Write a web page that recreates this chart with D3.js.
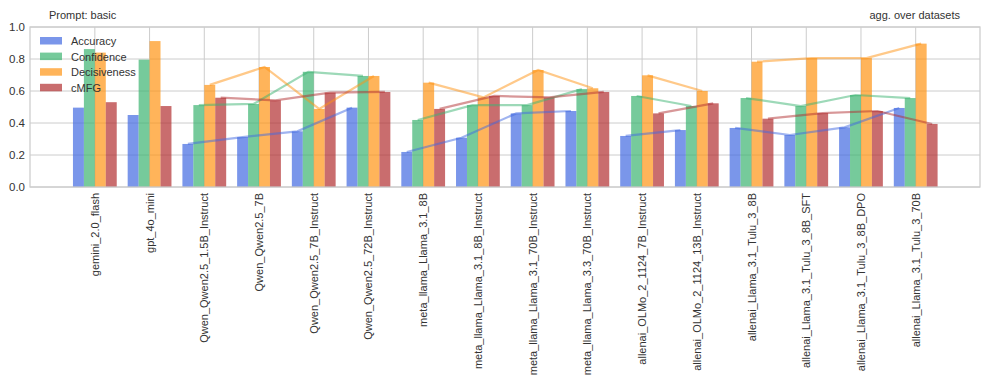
<!DOCTYPE html>
<html>
<head>
<meta charset="utf-8">
<script src="https://cdn.jsdelivr.net/npm/d3@7"></script>
<style>
	body { margin: 0; background: #fff; }
	svg { display: block; font-family: 'Liberation Sans', Arial, sans-serif; }
</style>
</head>
<body>
<svg id="chart" width="989" height="388"></svg>
<script>
// model names along the x axis
const models = [
	'gemini_2.0_flash', 'gpt_4o_mini',
	'Qwen_Qwen2.5_1.5B_Instruct', 'Qwen_Qwen2.5_7B', 'Qwen_Qwen2.5_7B_Instruct', 'Qwen_Qwen2.5_72B_Instruct',
	'meta_llama_Llama_3.1_8B', 'meta_llama_Llama_3.1_8B_Instruct', 'meta_llama_Llama_3.1_70B_Instruct', 'meta_llama_Llama_3.3_70B_Instruct',
	'allenai_OLMo_2_1124_7B_Instruct', 'allenai_OLMo_2_1124_13B_Instruct',
	'allenai_Llama_3.1_Tulu_3_8B', 'allenai_Llama_3.1_Tulu_3_8B_SFT', 'allenai_Llama_3.1_Tulu_3_8B_DPO', 'allenai_Llama_3.1_Tulu_3_70B'
];

// model families, connected by a line (index ranges into models)
const families = [[2, 5], [6, 9], [10, 11], [12, 15]];

const metrics = ['Accuracy', 'Confidence', 'Decisiveness', 'cMFG'];

const accuracy     = [0.496, 0.450, 0.269, 0.312, 0.348, 0.496, 0.219, 0.308, 0.460, 0.475, 0.319, 0.356, 0.369, 0.325, 0.373, 0.494];
const confidence   = [0.862, 0.796, 0.512, 0.519, 0.720, 0.694, 0.419, 0.512, 0.512, 0.612, 0.569, 0.506, 0.556, 0.506, 0.575, 0.556];
const decisiveness = [0.840, 0.912, 0.638, 0.750, 0.488, 0.694, 0.652, 0.560, 0.731, 0.617, 0.698, 0.600, 0.783, 0.806, 0.806, 0.896];
const cmfg         = [0.530, 0.506, 0.558, 0.542, 0.590, 0.594, 0.488, 0.569, 0.560, 0.594, 0.460, 0.523, 0.427, 0.462, 0.475, 0.394];

const yTicks = [0, 0.2, 0.4, 0.6, 0.8, 1.0];

const series = [accuracy, confidence, decisiveness, cmfg];
const colors = ['#4169e1', '#3cb371', '#ff9414', '#b22f31'];

const svg = d3.select('#chart');
const margin = { left: 30, right: 9, top: 27, bottom: 201 };
const W = 989, H = 388;

const x = d3.scaleLinear()
	.domain([-1.185, models.length - 1 + 1.175])
	.range([margin.left, W - margin.right]);
const y = d3.scaleLinear().domain([0, 1]).range([H - margin.bottom, margin.top]);
const barW = x(0.2) - x(0);
const offs = [-0.3, -0.1, 0.1, 0.3];

// grid
const grid = svg.append('g');
grid.selectAll('line.h').data(yTicks).join('line')
	.attr('x1', margin.left).attr('x2', W - margin.right)
	.attr('y1', (d) => y(d)).attr('y2', (d) => y(d))
	.attr('stroke', '#cccccc').attr('stroke-width', 1);
grid.selectAll('line.v').data(models).join('line')
	.attr('x1', (d, i) => x(i)).attr('x2', (d, i) => x(i))
	.attr('y1', margin.top).attr('y2', H - margin.bottom)
	.attr('stroke', '#cccccc').attr('stroke-width', 1);

// bars
series.forEach((vals, s) => {
	svg.append('g').selectAll('rect').data(vals).join('rect')
		.attr('x', (d, i) => x(i + offs[s]) - barW / 2)
		.attr('width', barW)
		.attr('y', (d) => y(d))
		.attr('height', (d) => y(0) - y(d))
		.attr('fill', colors[s])
		.attr('fill-opacity', 0.7);
});

// family lines through bar tops
const line = d3.line();
series.forEach((vals, s) => {
	families.forEach(([a, b]) => {
		const pts = d3.range(a, b + 1).map((i) => [x(i + offs[s]), y(vals[i])]);
		svg.append('path')
			.attr('d', line(pts))
			.attr('fill', 'none')
			.attr('stroke', colors[s])
			.attr('stroke-opacity', 0.5)
			.attr('stroke-width', 2.2);
	});
});

// frame
svg.append('rect')
	.attr('x', margin.left).attr('y', margin.top)
	.attr('width', W - margin.right - margin.left)
	.attr('height', H - margin.bottom - margin.top)
	.attr('fill', 'none').attr('stroke', '#cccccc').attr('stroke-width', 1.25);

// y tick labels
svg.append('g').selectAll('text').data(yTicks).join('text')
	.attr('x', 25).attr('y', (d) => y(d) + 4)
	.attr('text-anchor', 'end')
	.attr('font-size', 11.5).attr('fill', '#333')
	.text((d) => d.toFixed(1));

// x tick labels (rotated)
svg.append('g').selectAll('text').data(models).join('text')
	.attr('transform', (d, i) => `translate(${x(i) + 4},${H - margin.bottom + 6}) rotate(-90)`)
	.attr('text-anchor', 'end')
	.attr('font-size', 11).attr('fill', '#333')
	.text((d) => d);

// legend
const legend = svg.append('g').attr('transform', 'translate(40,41)');
metrics.forEach((m, k) => {
	const row = legend.append('g').attr('transform', `translate(0,${k * 15.6})`);
	row.append('rect').attr('x', 0).attr('y', -4).attr('width', 22).attr('height', 7.5)
		.attr('fill', colors[k]).attr('fill-opacity', 0.7);
	row.append('text').attr('x', 31).attr('y', 4).attr('font-size', 11).attr('fill', '#333').text(m);
});

// titles
svg.append('text').attr('x', 49).attr('y', 19).attr('font-size', 11).attr('fill', '#333').text('Prompt: basic');
svg.append('text').attr('x', 960).attr('y', 19).attr('text-anchor', 'end').attr('font-size', 11).attr('fill', '#333').text('agg. over datasets');
</script>
</body>
</html>
